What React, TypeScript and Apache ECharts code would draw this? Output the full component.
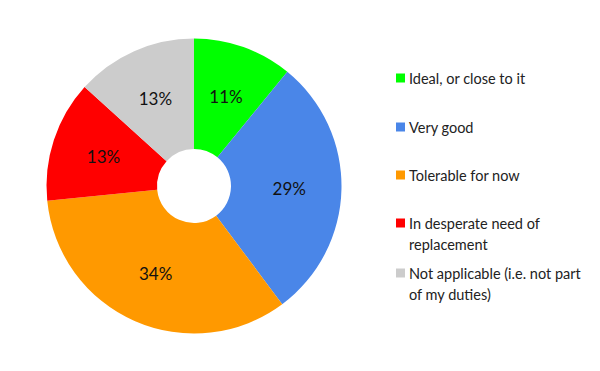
import React, { useEffect, useRef } from "react";
import * as echarts from "echarts";

const categories = [
  "Ideal, or close to it",
  "Very good",
  "Tolerable for now",
  "In desperate need of replacement",
  "Not applicable (i.e. not part of my duties)",
];
const legendLines = [
  ["Ideal, or close to it"],
  ["Very good"],
  ["Tolerable for now"],
  ["In desperate need of", "replacement"],
  ["Not applicable (i.e. not part", "of my duties)"],
];
const values = [10.9, 28.9, 33.6, 13.3, 13.3];
const colors = ["#00ff00", "#4a86e8", "#ff9900", "#ff0000", "#cccccc"];

const FONT = "Lato, 'Noto Sans', sans-serif";

export default function App() {
  const ref = useRef<HTMLDivElement>(null);
  useEffect(() => {
    document.body.style.margin = "0";
    const chart = echarts.init(ref.current!, null, { renderer: "svg" });
    const legendTops = [78, 127, 175, 223, 273];
    const graphic: any[] = [];
    legendLines.forEach((lines, i) => {
      const y = legendTops[i];
      graphic.push({
        type: "rect",
        shape: { x: 396, y: y - 4.5, width: 9, height: 9 },
        style: { fill: colors[i] },
      });
      graphic.push({
        type: "text",
        x: 409,
        y: y - 10.5,
        style: {
          text: lines.join("\n"),
          fontFamily: FONT,
          fontSize: 14.5,
          lineHeight: 21,
          fill: "#222",
          verticalAlign: "top",
        },
      });
    });
    chart.setOption({
      animation: false,
      backgroundColor: "#ffffff",
      graphic,
      series: [
        {
          type: "pie",
          center: [194, 186],
          radius: [37, 147.5],
          startAngle: 90,
          clockwise: true,
          data: categories.map((name, i) => ({
            name,
            value: values[i],
            itemStyle: { color: colors[i] },
          })),
          itemStyle: { borderWidth: 0 },
          label: {
            show: true,
            position: "inside",
            formatter: (p: any) => Math.round(p.percent) + "%",
            color: "#111",
            fontFamily: FONT,
            fontSize: 17,
          },
          labelLine: { show: false },
          emphasis: { disabled: true },
        },
      ],
    });
    return () => chart.dispose();
  }, []);
  return <div ref={ref} style={{ width: 600, height: 371 }} />;
}
